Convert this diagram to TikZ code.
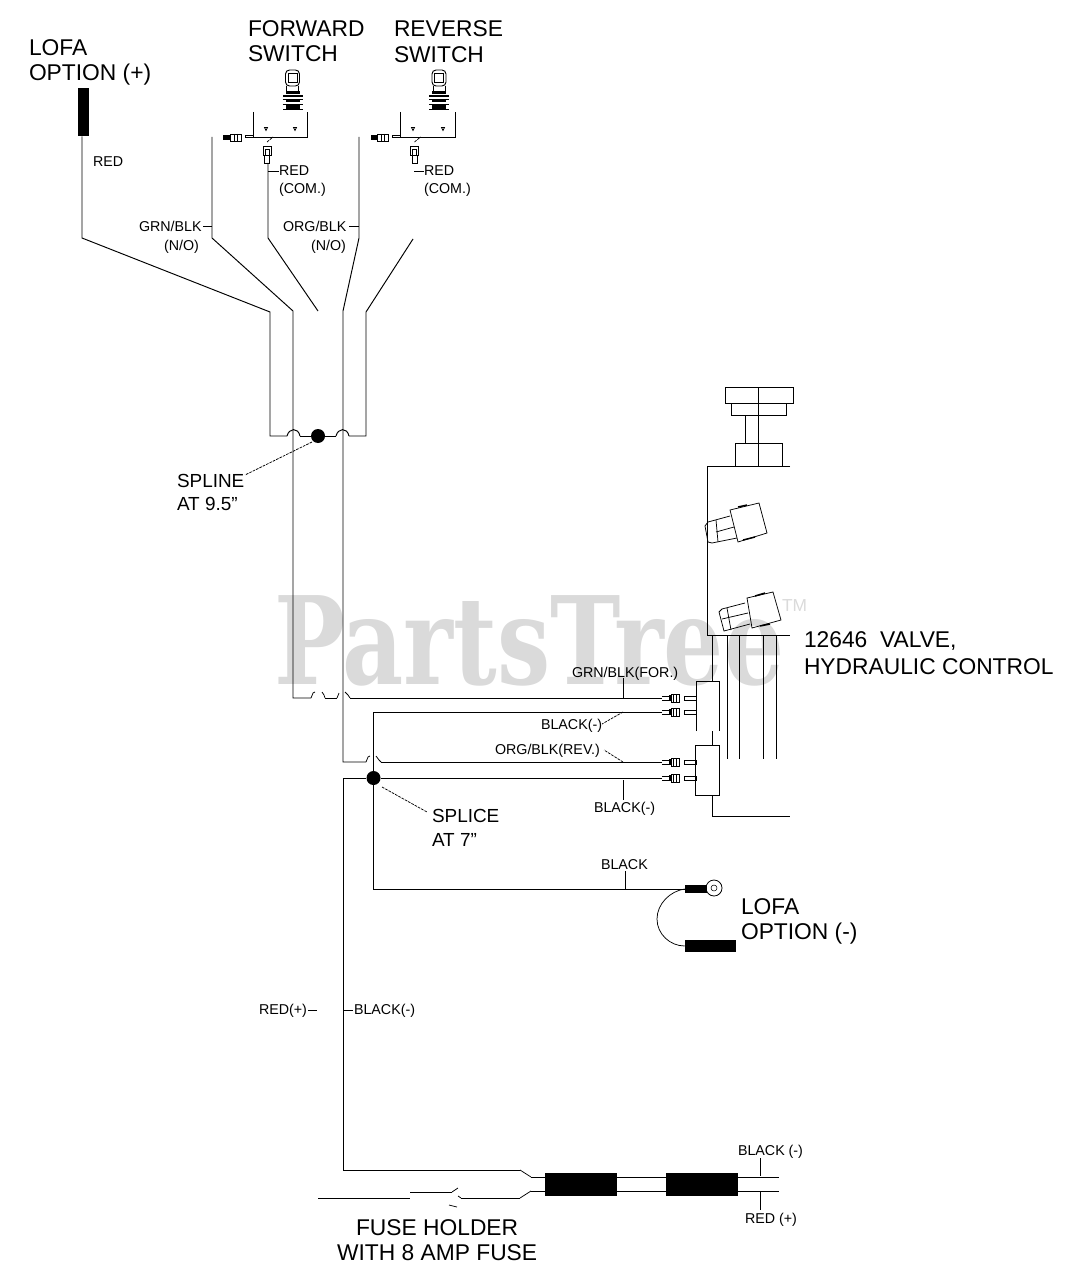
\documentclass[tikz,border=0pt]{standalone}
\usepackage{fontspec}
\usepackage{graphicx}
\setmainfont{Liberation Sans}
\newfontfamily\wmfont{DejaVu Serif}
\definecolor{wmgray}{HTML}{DADADA}
\newcommand{\szbig}{\fontsize{17.1}{20}\selectfont}
\newcommand{\szmid}{\fontsize{14.2}{17}\selectfont}
\newcommand{\szsmall}{\fontsize{10.7}{13}\selectfont}
\tikzset{
  wire/.style={line width=0.72pt,line join=miter},
  thinw/.style={line width=0.55pt},
  leader/.style={line width=0.55pt,dash pattern=on 2pt off 0.8pt},
  lab/.style={anchor=base west,inner sep=0pt,outer sep=0pt,text=black},
  big/.style={lab,font=\szbig},
  mid/.style={lab,font=\szmid},
  small/.style={lab,font=\szsmall},
  dot/.style={circle,fill=black,draw=none,minimum size=10.5pt,inner sep=0pt},
  bar/.style={rectangle,fill=black,draw=none,inner sep=0pt}
}
% horizontal blade connector, wire entering on the left at (x,y)
\newcommand{\conn}[2]{%
  \begin{scope}[shift={(#1,#2)}]
    \draw[thinw] (0,-2) -- (7,-2) (0,2) -- (7,2);
    \fill (7,-3) rectangle (9,3);
    \draw[line width=0.7pt] (9,-4) rectangle (17,4);
    \draw[thinw] (11,-4) -- (11,4) (14,-4) -- (14,4);
    \draw[thinw] (22,-2) rectangle (34,2);
  \end{scope}}
% toggle switch with body, centre of toggle x = #1, body left = #2
\newcommand{\switchbody}[4]{%
  \begin{scope}
    \draw[line width=0.7pt,rounded corners=3pt] (#1-7,70) rectangle (#1+7,86);
    \draw[thinw] (#1-4.5,73) rectangle (#1+4.5,82);
    \draw[thinw] (#1-6,86) -- (#1-6,92) (#1+6,86) -- (#1+6,92);
    \fill (#1-7,91) rectangle (#1+7,94);
    \fill (#1-10,95) rectangle (#1+10,97.5);
    \draw[thinw] (#1-10,99) -- (#1+10,99);
    \fill (#1-7,100) rectangle (#1+7,102.5);
    \draw[thinw] (#1-10,104) -- (#1+10,104);
    \fill (#1-7,105) rectangle (#1+7,109);
    \fill (#1-10,109) rectangle (#1+10,110.5);
    \draw[wire] (#2,112) -- (#2,137) -- (#2+54.5,137) -- (#2+54.5,112);
    \draw[thinw] (#3,129) +(-1.5,-1.5) -- +(1.5,-1.5) -- +(0,1.5) -- cycle;
    \draw[thinw] (#4,129) +(-1.5,-1.5) -- +(1.5,-1.5) -- +(0,1.5) -- cycle;
    % side terminal
    \draw[thinw] (#2-8,135) rectangle (#2,137);
    \draw[thinw] (#2-12,134) rectangle (#2-23,141);
    \fill (#2-23,135) rectangle (#2-30,140);
    \draw[thinw] (#2-19,134) -- (#2-19,141) (#2-16,134) -- (#2-16,141);
    % bottom terminal
    \draw[leader] (#2+14,142) -- (#2+20,137);
    \draw[line width=0.7pt] (#2+10,146) rectangle (#2+18,155);
    \draw[thinw] (#2+12,149) rectangle (#2+16,155);
    \draw[thinw] (#2+11.5,155) rectangle (#2+16.5,163);
  \end{scope}}
\begin{document}
\begin{tikzpicture}[x=0.75pt,y=-0.75pt]
\useasboundingbox (0,0) rectangle (1076,1280);
% watermark
\node[lab,text=wmgray] (wm) at (274,684) {\scalebox{0.775}[1]{\wmfont\bfseries\fontsize{91.5}{92}\selectfont PartsTree}};
\node[lab,text=wmgray,font=\fontsize{13}{14}\selectfont] (tm) at (782,611) {TM};

% ---- named points
\node[bar,minimum width=8.25pt,minimum height=36pt] (lofaplus) at (83.5,112) {};
\node[dot] (spl) at (318,436) {};
\node[dot] (spc) at (373.5,778) {};
\node[bar,minimum width=54pt,minimum height=17.25pt] (fuseA) at (581,1184.5) {};
\node[bar,minimum width=54pt,minimum height=17.25pt] (fuseB) at (702,1184.5) {};
\node[bar,minimum width=16.5pt,minimum height=6pt] (lug) at (696,889) {};
\node[circle,draw=black,line width=0.6pt,minimum size=12pt,inner sep=0pt] (ring) at (714,888) {};
\node[circle,draw=black,line width=0.4pt,minimum size=4.5pt,inner sep=0pt] (ringin) at (714,888) {};
\node[bar,minimum width=38.25pt,minimum height=9pt] (lofaminus) at (710.5,946) {};

% ---- switches
\switchbody{292.5}{253}{266}{295}
\switchbody{439}{400.5}{413}{443}

% ---- upper harness
\coordinate (a1) at (82,238);
\coordinate (a2) at (270,312);
\coordinate (a3) at (270,436);
\coordinate (a4) at (287,436);
\coordinate (a5) at (300,436);
\coordinate (a6) at (336,436);
\coordinate (a7) at (349,436);
\coordinate (a8) at (366,436);
\coordinate (a9) at (366,312);
\coordinate (a10) at (413,239);
\draw[wire] (lofaplus.south -| a1) -- (a1) -- (a2) -- (a3) -- (a4);
\draw[wire] (a4) .. controls (289,428) and (298,427) .. (a5);
\draw[wire] (a5) -- (spl) -- (a6);
\draw[wire] (a6) .. controls (338,428) and (347,427) .. (a7);
\draw[wire] (a7) -- (a8) -- (a9) -- (a10);

\coordinate (g0) at (212,137);
\coordinate (g1) at (212,238);
\coordinate (g2) at (293,311);
\coordinate (g3) at (293,698);
\coordinate (g4) at (311,698);
\coordinate (g5) at (325,698);
\coordinate (g6) at (337,698);
\coordinate (g7) at (350,698);
\coordinate (gE) at (662,698);
\draw[wire] (g0) -- (g1) -- (g2) -- (g3) -- (g4);
\draw[thinw] (g4) -- (313,693) -- (315,692);
\draw[thinw] (322,692) -- (324,695) -- (g5);
\draw[wire] (g5) -- (g6);
\draw[thinw] (g6) -- (339,693) (345,692) -- (348,695) -- (g7);
\draw[wire] (g7) -- (gE);

\coordinate (r0) at (268,163);
\coordinate (r1) at (268,238);
\coordinate (r2) at (318,311);
\draw[wire] (r0) -- (r1) -- (r2);

\coordinate (o0) at (359,137);
\coordinate (o1) at (359,238);
\coordinate (o2) at (343,311);
\coordinate (o3) at (343,762);
\coordinate (o4) at (366,762);
\coordinate (o5) at (381,762);
\coordinate (oE) at (662,762);
\draw[wire] (o0) -- (o1) -- (o2) -- (o3) -- (o4);
\draw[thinw] (o4) -- (368,757) -- (370,756);
\draw[thinw] (376,756) -- (379,760) -- (o5);
\draw[wire] (o5) -- (oE);

% ---- black wires
\coordinate (b0) at (662,712);
\coordinate (b1) at (373.5,712);
\coordinate (b2) at (373.5,889);
\draw[wire] (b0) -- (b1) -- (spc) -- (b2) -- (lug.west);
\coordinate (c0) at (662,778);
\coordinate (c1) at (343,778);
\coordinate (c2) at (343,1170);
\coordinate (c3) at (520,1170);
\coordinate (c4) at (531,1177);
\draw[wire] (c0) -- (spc) -- (c1) -- (c2) -- (c3);
\draw[thinw] (c3) -- (c4);
\draw[wire] (c4) -- (fuseA.west |- c4);

% ---- fuse holder
\coordinate (f1) at (531,1191);
\coordinate (f2) at (520,1198);
\coordinate (f3) at (461,1198);
\coordinate (f4) at (458,1196);
\coordinate (f5) at (457,1207);
\coordinate (f6) at (449,1205);
\coordinate (f7) at (410,1198);
\coordinate (f8) at (318,1198);
\coordinate (f9) at (410,1192);
\coordinate (f10) at (452,1192);
\coordinate (f11) at (458,1188);
\draw[wire] (fuseA.west |- f1) -- (f1);
\draw[thinw] (f1) -- (f2);
\draw[wire] (f2) -- (f3);
\draw[thinw] (f3) -- (f4);
\draw[thinw] (f6) -- (f5);
\draw[wire] (f8) -- (f7);
\draw[wire] (f9) -- (f10);
\draw[thinw] (f10) -- (f11);
\draw[wire] (fuseA.east |- c4) -- (fuseB.west |- c4);
\draw[wire] (fuseA.east |- f1) -- (fuseB.west |- f1);
\coordinate (e1) at (779,1177);
\coordinate (e2) at (779,1191);
\draw[wire] (fuseB.east |- e1) -- (e1);
\draw[wire] (fuseB.east |- e2) -- (e2);

% ---- lofa minus loop
\draw[thinw] (lug.west) .. controls (670,891) and (657,904) .. (657,919)
   .. controls (657,934) and (670,946) .. (lofaminus.west);

% ---- valve
\draw[wire] (725,387) rectangle (793,403);
\draw[wire] (731,403) rectangle (786,415);
\draw[wire] (745.5,415) -- (745.5,443);
\draw[wire] (758,387) -- (758,466);
\draw[wire] (735,466) -- (735,443) -- (782.5,443) -- (782.5,466);
\draw[wire] (790,466) -- (707.5,466) -- (707.5,635) -- (790,635);
% solenoids
\draw[thinw] (730,510) -- (759,503) -- (767,533) -- (738,542) -- cycle;
\draw[thinw] (730,516) -- (708,522) -- (705,526) -- (708,542) -- (712,543) -- (737,538);
\draw[thinw] (716,532) -- (734,527);
\draw[thinw] (716,520) -- (718,542);
\draw[line width=1.1pt] (738,507) -- (747,505);
\draw[line width=1.1pt] (743,540) -- (755,537);
\draw[thinw] (747,598) -- (773,592) -- (781,620) -- (752,628) -- cycle;
\draw[thinw] (745,603) -- (722,609) -- (719,612) -- (724,631) -- (750,624);
\draw[thinw] (722,619) -- (748,613);
\draw[thinw] (727,608) -- (731,630);
\draw[line width=1.1pt] (755,596) -- (765,593);
\draw[line width=1.1pt] (760,626) -- (770,624);
% lower wires
\draw[wire] (712.7,635) -- (712.7,681);
\foreach \wx in {727,739,763,776} {\draw[wire] (\wx,635) -- (\wx,759);}
% solenoid connector boxes
\draw[wire] (696,731) -- (696,681) -- (719.5,681) -- (719.5,731);
\draw[wire] (712.7,731) -- (712.7,745);
\draw[wire,fill=white] (695.5,745) rectangle (719.5,795);
\draw[wire] (712.7,795) -- (712.7,816) -- (790,816);
\conn{662}{698}
\conn{662}{712}
\conn{662}{762}
\conn{662}{778}

% ---- leaders and ticks
\coordinate (ls1) at (312,442);
\coordinate (ls2) at (245,475);
\draw[leader] (ls1) -- (ls2);
\coordinate (lc1) at (382,787);
\coordinate (lc2) at (427,812);
\draw[leader] (lc1) -- (lc2);
\draw[leader] (623,712) -- (602,724);
\draw[leader] (623,762) -- (604,750);
\draw[thinw] (623,678) -- (623,698);
\draw[thinw] (623,780) -- (623,800);
\draw[thinw] (625,871) -- (625,889);
\draw[thinw] (203,226) -- (212,226);
\draw[thinw] (349,226) -- (359,226);
\draw[thinw] (268,171) -- (279,171);
\draw[thinw] (414,171) -- (424,171);
\draw[thinw] (308,1010) -- (317,1010);
\draw[thinw] (343,1010) -- (353,1010);
\draw[thinw] (760,1158) -- (760,1176);
\draw[thinw] (760,1192) -- (760,1210);

% ---- labels
\node[big] (t1) at (29,56) {LOFA};
\node[big] (t2) at (29,81) {OPTION (+)};
\node[big] (t3) at (248,37) {FORWARD};
\node[big] (t4) at (248,62) {SWITCH};
\node[big] (t5) at (394,37) {REVERSE};
\node[big] (t6) at (394,63) {SWITCH};
\node[small] (t7) at (93,167) {RED};
\node[small] (t8) at (279,176) {RED};
\node[small] (t9) at (279,194) {(COM.)};
\node[small] (t10) at (424,176) {RED};
\node[small] (t11) at (424,194) {(COM.)};
\node[small] (t12) at (139,232) {GRN/BLK};
\node[small] (t13) at (164,250) {(N/O)};
\node[small] (t14) at (283,232) {ORG/BLK};
\node[small] (t15) at (311,250) {(N/O)};
\node[mid] (t16) at (177,487) {SPLINE};
\node[mid] (t17) at (177,510) {AT 9.5"};
\node[big] (t18) at (804,647) {12646\ \ VALVE,};
\node[big] (t19) at (804,674) {HYDRAULIC CONTROL};
\node[small] (t20) at (572,677) {GRN/BLK(FOR.)};
\node[small] (t21) at (541,729) {BLACK(-)};
\node[small] (t22) at (495,754) {ORG/BLK(REV.)};
\node[small] (t23) at (594,812) {BLACK(-)};
\node[mid] (t24) at (432,822) {SPLICE};
\node[mid] (t25) at (432,846) {AT 7"};
\node[small] (t26) at (601,869) {BLACK};
\node[big] (t27) at (741,914) {LOFA};
\node[big] (t28) at (741,939) {OPTION (-)};
\node[small] (t29) at (259,1014) {RED(+)};
\node[small] (t30) at (354,1014) {BLACK(-)};
\node[small] (t31) at (738,1155) {BLACK (-)};
\node[small] (t32) at (745,1223) {RED (+)};
\node[big] (t33) at (356,1235) {FUSE HOLDER};
\node[big] (t34) at (337,1260) {WITH 8 AMP FUSE};
\end{tikzpicture}
\end{document}
